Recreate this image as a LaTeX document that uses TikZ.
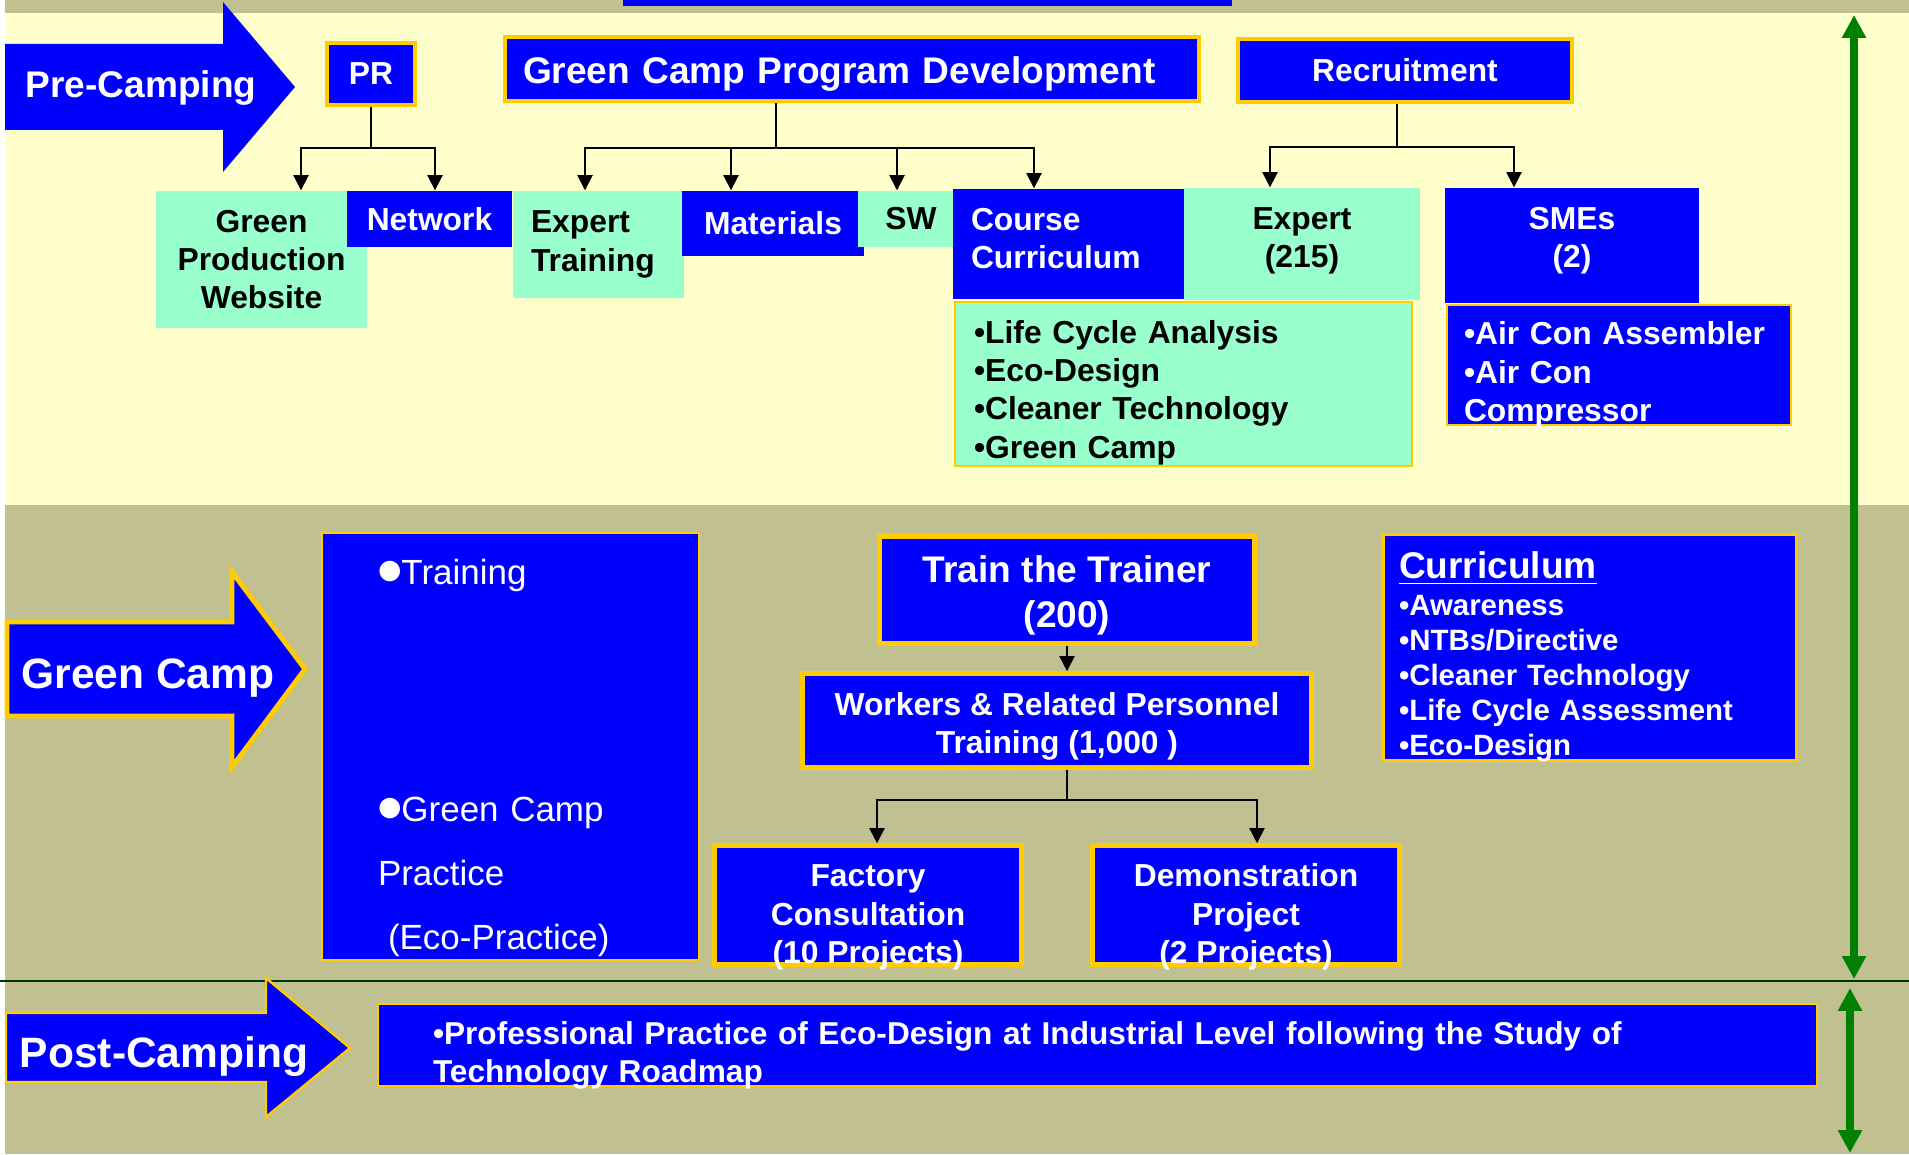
\documentclass[tikz,border=0pt]{standalone}
\usepackage{fontspec}
\setmainfont{Liberation Sans}
\newfontfamily\dejavu{DejaVu Sans}
\usetikzlibrary{arrows.meta}

\definecolor{pblue}{RGB}{0,0,255}
\definecolor{mint}{RGB}{153,255,204}
\definecolor{gold}{RGB}{255,204,0}
\definecolor{paleyellow}{RGB}{255,255,204}
\definecolor{bgolive}{RGB}{192,192,144}
\definecolor{phasegreen}{RGB}{0,128,0}
\definecolor{darkline}{RGB}{0,51,0}

\newcommand\txtbox{\fontsize{9.05pt}{10.9pt}\selectfont\bfseries}
\newcommand\txthead{\fontsize{10.55pt}{12.8pt}\selectfont\bfseries}
\newcommand\txtstage{\fontsize{12.1pt}{14.5pt}\selectfont\bfseries}
\newcommand\txtlist{\fontsize{8.37pt}{10pt}\selectfont\bfseries}
\newcommand\txtplain{\fontsize{9.95pt}{18.2pt}\selectfont}
\newcommand\txtpost{\fontsize{9.0pt}{10.7pt}\selectfont\bfseries}
\newcommand\dotmark{\raisebox{0.06cm}{\fontsize{7.65pt}{8pt}\selectfont\dejavu ●}}

\begin{document}
\begin{tikzpicture}[
        bluebox/.style={rectangle,fill=pblue,text=white,font=\txtbox,
                align=center,inner sep=0pt},
        mintbox/.style={rectangle,fill=mint,text=black,font=\txtbox,
                align=center,inner sep=0pt},
        goldthick/.style={draw=gold,line width=1.3pt},
        goldthin/.style={draw=gold,line width=0.7pt},
        tree/.style={line width=0.5pt,-{Triangle[length=4.3pt,width=4.3pt]}},
        phase/.style={draw=phasegreen,line width=2.1pt,
                {Triangle[length=6.5pt,width=6.5pt]}-{Triangle[length=6.5pt,width=6.5pt]}},
    ]

    % Background bands
    \useasboundingbox (0,0) rectangle (19.09,11.54);
    \fill[bgolive] (0.05,0) rectangle (19.09,11.54);
    \fill[paleyellow] (0.05,6.49) rectangle (19.09,11.41);
    \fill[pblue] (6.23,11.48) rectangle (12.32,11.54);
    \draw[darkline,line width=0.6pt] (0,1.73) -- (19.09,1.73);

    % Stage: Pre-Camping
    \fill[pblue] (0.05,11.10) -- (2.23,11.10) -- (2.23,11.52) -- (2.95,10.67)
        -- (2.23,9.82) -- (2.23,10.24) -- (0.05,10.24) -- cycle;
    \node[text=white,font=\txthead] (precamp) at (1.41,10.66) {Pre-Camping};

    \node[bluebox,goldthick,minimum width=0.88cm,minimum height=0.62cm]
        (pr) at (3.71,10.80) {PR};
    \node[bluebox,goldthick,font=\txthead,align=left,text width=6.58cm,
        inner xsep=0.18cm,minimum height=0.64cm,text height=0.37cm]
        (gcpd) at (8.52,10.85) {Green Camp Program Development};
    \node[bluebox,goldthick,minimum width=3.34cm,minimum height=0.63cm]
        (rec) at (14.05,10.835) {Recruitment};

    \node[mintbox,minimum width=2.11cm,minimum height=1.37cm]
        (gpw) at (2.615,8.945) {Green\\Production\\Website};
    \node[bluebox,minimum width=1.65cm,minimum height=0.56cm]
        (network) at (4.295,9.35) {Network};
    \node[mintbox,align=left,text width=1.35cm,inner xsep=0.18cm,minimum height=1.07cm]
        (extr) at (5.985,9.095) {Expert\\Training};
    \node[bluebox,minimum width=1.82cm,minimum height=0.65cm]
        (mat) at (7.73,9.305) {Materials};
    \node[mintbox,minimum width=1.06cm,minimum height=0.56cm]
        (sw) at (9.11,9.35) {SW};
    \node[bluebox,align=left,text width=1.95cm,inner xsep=0.18cm,minimum height=1.10cm,
        text height=0.12cm] (course) at (10.685,9.10) {Course\\Curriculum};
    \node[mintbox,minimum width=2.36cm,minimum height=1.12cm,text height=0.545cm]
        (expert) at (13.02,9.10) {Expert\\(215)};
    \node[mintbox,goldthin,align=left,text width=4.19cm,inner xsep=0.19cm,minimum height=1.64cm,
        text height=0.40cm] (topics) at (11.835,7.70)
        {•Life Cycle Analysis\\•Eco-Design\\•Cleaner Technology\\•Green Camp};
    \node[bluebox,minimum width=2.54cm,minimum height=1.15cm,text height=0.505cm]
        (smes) at (15.72,9.085) {SMEs\\(2)};
    \node[bluebox,goldthin,align=left,text width=3.10cm,inner xsep=0.17cm,minimum height=1.20cm,
        text height=0.10cm,text depth=0.50cm]
        (aircon) at (16.19,7.89) {•Air Con Assembler\\•Air Con\\Compressor};

    % Tree connectors
    \draw[line width=0.5pt] (pr.south) -- ++(0,-0.41) coordinate (prbus);
    \draw[tree] (prbus) -| ([xshift=3.95mm]gpw.north);
    \draw[tree] (prbus) -| ([xshift=0.55mm]network.north);

    \draw[line width=0.5pt] ([xshift=-7.6mm]gcpd.south) -- ++(0,-0.45) coordinate (gbus);
    \draw[tree] (gbus) -| ([xshift=-1.35mm]extr.north);
    \draw[tree] (gbus) -| ([xshift=-4.2mm]mat.north);
    \draw[tree] (gbus) -| ([xshift=-1.4mm]sw.north);
    \draw[tree] (gbus) -| ([xshift=-3.45mm]course.north);

    \draw[line width=0.5pt] ([xshift=-0.8mm]rec.south) -- ++(0,-0.43) coordinate (rbus);
    \draw[tree] (rbus) -| ([xshift=-3.2mm]expert.north);
    \draw[tree] (rbus) -| ([xshift=-5.8mm]smes.north);

    % Stage: Green Camp
    \draw[goldthick,line width=1.4pt,fill=pblue] (0.07,5.32) -- (2.32,5.32) -- (2.32,5.82)
        -- (3.05,4.85) -- (2.32,3.87) -- (2.32,4.38) -- (0.07,4.38) -- cycle;
    \node[text=white,font=\txtstage] (greencamp) at (1.48,4.76) {Green Camp};

    \node[bluebox,goldthin,font=\txtplain,align=left,text width=2.65cm,inner xsep=0.56cm,
        minimum height=4.27cm,text height=0.10cm,text depth=3.34cm] (practice) at (5.105,4.075)
        {\dotmark Training\\[1.73cm]\dotmark Green Camp\\Practice\\
         \hspace*{0.1cm}(Eco-Practice)};

    \node[bluebox,goldthick,font=\txthead,minimum width=3.75cm,minimum height=1.07cm,
        text height=0.83cm] (train) at (10.67,5.64) {Train the Trainer\\(200)};
    \node[bluebox,goldthick,minimum width=5.09cm,minimum height=0.94cm,text height=0.725cm]
        (workers) at (10.57,4.335) {Workers \& Related Personnel\\Training (1,000 )};
    \node[bluebox,goldthick,minimum width=3.07cm,minimum height=1.19cm,
        text height=1.171cm,text depth=0cm]
        (factory) at (8.68,2.49) {Factory\\Consultation\\(10 Projects)};
    \node[bluebox,goldthick,minimum width=3.07cm,minimum height=1.19cm,
        text height=1.171cm,text depth=0cm]
        (demo) at (12.46,2.49) {Demonstration\\Project\\(2 Projects)};

    \node[bluebox,goldthin,font=\txtlist,align=left,text width=3.82cm,inner xsep=0.155cm,
        minimum height=2.26cm,text height=0.10cm,text depth=1.487cm] (curric) at (15.90,5.065)
        {{\txthead\underline{Curriculum}}\\[0.02cm]•Awareness\\•NTBs/Directive\\
         •Cleaner Technology\\•Life Cycle Assessment\\•Eco-Design};

    \draw[tree] (train.south) -- (train.south |- workers.north);
    \draw[line width=0.5pt] (train.south |- workers.south) -- ++(0,-0.30) coordinate (wbus);
    \draw[tree] (wbus) -| ([xshift=0.9mm]factory.north);
    \draw[tree] (wbus) -| ([xshift=1.1mm]demo.north);

    % Stage: Post-Camping
    \draw[goldthin,fill=pblue] (0.06,1.41) -- (2.66,1.41) -- (2.66,1.76) -- (3.50,1.06)
        -- (2.66,0.37) -- (2.66,0.72) -- (0.06,0.72) -- cycle;
    \node[text=white,font=\txtstage] (postcamp) at (1.64,0.97) {Post-Camping};

    \node[bluebox,goldthin,font=\txtpost,align=left,text width=13.29cm,inner xsep=0.55cm,
        minimum height=0.82cm,text height=0.10cm,text depth=0.111cm] (roadmap) at (10.975,1.09)
        {•Professional Practice of Eco-Design at Industrial Level following the Study of\\
         Technology Roadmap};

    % Phase spans
    \coordinate (ptop) at (18.54,11.39);
    \coordinate (pbot) at (18.54,1.75);
    \draw[phase] (ptop) -- (pbot);
    \coordinate (qtop) at (18.50,1.66);
    \coordinate (qbot) at (18.50,0.01);
    \draw[phase] (qtop) -- (qbot);

\end{tikzpicture}
\end{document}
